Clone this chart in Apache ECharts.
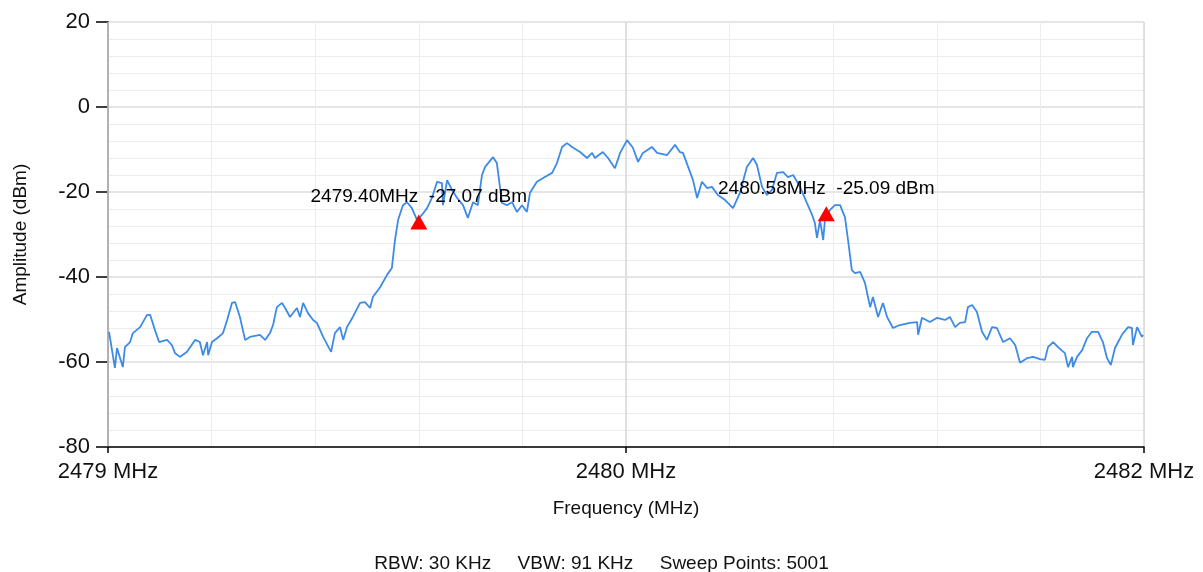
<!DOCTYPE html>
<html>
<head>
<meta charset="utf-8">
<script src="https://cdn.jsdelivr.net/npm/echarts@6/dist/echarts.min.js"></script>
<style>
  html, body { margin: 0; padding: 0; background: #fff; }
  #chart { width: 1203px; height: 572px; }
</style>
</head>
<body>
<div id="chart"></div>
<script>
// sweep span (MHz)
const spanStart = 2478.5
const spanEnd = 2481.5

const freqMHz = [
  2478.503, 2478.520, 2478.526, 2478.543, 2478.549, 2478.564, 2478.572, 2478.593, 2478.613, 2478.622,
  2478.636, 2478.648, 2478.671, 2478.685, 2478.694, 2478.708, 2478.729, 2478.752, 2478.766, 2478.775,
  2478.787, 2478.790, 2478.801, 2478.816, 2478.833, 2478.845, 2478.859, 2478.868, 2478.882, 2478.897,
  2478.911, 2478.940, 2478.955, 2478.969, 2478.978, 2478.989, 2479.004, 2479.013, 2479.027, 2479.047,
  2479.056, 2479.065, 2479.079, 2479.094, 2479.105, 2479.123, 2479.146, 2479.157, 2479.172, 2479.181,
  2479.192, 2479.209, 2479.230, 2479.244, 2479.259, 2479.267, 2479.288, 2479.308, 2479.322, 2479.331,
  2479.340, 2479.354, 2479.366, 2479.380, 2479.395, 2479.409, 2479.424, 2479.438, 2479.453, 2479.467,
  2479.470, 2479.482, 2479.496, 2479.511, 2479.528, 2479.542, 2479.557, 2479.571, 2479.583, 2479.592,
  2479.615, 2479.626, 2479.641, 2479.655, 2479.670, 2479.684, 2479.699, 2479.713, 2479.722, 2479.742,
  2479.760, 2479.786, 2479.800, 2479.815, 2479.829, 2479.847, 2479.867, 2479.887, 2479.902, 2479.910,
  2479.933, 2479.948, 2479.968, 2479.983, 2480.003, 2480.020, 2480.035, 2480.049, 2480.075, 2480.090,
  2480.119, 2480.142, 2480.156, 2480.165, 2480.180, 2480.194, 2480.206, 2480.220, 2480.235, 2480.249,
  2480.266, 2480.287, 2480.310, 2480.330, 2480.350, 2480.368, 2480.379, 2480.394, 2480.408, 2480.423,
  2480.437, 2480.455, 2480.469, 2480.484, 2480.504, 2480.524, 2480.539, 2480.547, 2480.553, 2480.562,
  2480.571, 2480.576, 2480.591, 2480.605, 2480.620, 2480.634, 2480.643, 2480.654, 2480.663, 2480.678,
  2480.692, 2480.707, 2480.715, 2480.730, 2480.744, 2480.756, 2480.773, 2480.793, 2480.822, 2480.843,
  2480.846, 2480.857, 2480.880, 2480.901, 2480.924, 2480.938, 2480.953, 2480.967, 2480.982, 2480.990,
  2481.002, 2481.016, 2481.031, 2481.045, 2481.060, 2481.074, 2481.092, 2481.112, 2481.127, 2481.141,
  2481.161, 2481.179, 2481.199, 2481.213, 2481.222, 2481.237, 2481.251, 2481.271, 2481.280, 2481.292,
  2481.294, 2481.306, 2481.321, 2481.335, 2481.349, 2481.367, 2481.381, 2481.393, 2481.404, 2481.416,
  2481.436, 2481.454, 2481.465, 2481.468, 2481.480, 2481.494, 2481.497
]

const ampDbm = [
  -52.9, -61.4, -56.7, -61.2, -56.5, -55.3, -53.2, -51.8, -48.9, -48.9,
  -52.5, -55.3, -54.8, -56.0, -57.9, -58.8, -57.6, -54.8, -55.3, -58.4,
  -55.3, -58.4, -55.3, -54.4, -53.2, -50.1, -46.1, -45.9, -49.4, -54.8,
  -54.1, -53.6, -54.8, -53.2, -51.3, -47.1, -46.1, -47.3, -49.4, -47.3,
  -49.4, -46.1, -48.5, -50.1, -50.8, -54.1, -57.6, -53.2, -51.8, -54.8,
  -51.8, -49.4, -46.1, -45.9, -47.3, -44.7, -42.4, -39.5, -37.9, -31.3,
  -26.6, -23.1, -22.4, -23.8, -26.6, -25.4, -23.8, -21.4, -17.6, -17.9,
  -23.1, -17.2, -19.5, -21.4, -23.1, -26.1, -22.4, -23.1, -16.0, -14.1,
  -11.8, -13.2, -22.6, -23.1, -22.4, -24.7, -23.1, -24.7, -20.2, -17.6,
  -16.7, -15.5, -13.2, -9.4, -8.5, -9.6, -10.6, -12.0, -10.8, -12.0,
  -10.6, -12.0, -14.4, -10.8, -7.8, -9.6, -12.9, -10.8, -9.4, -10.8,
  -11.3, -8.9, -10.6, -10.8, -14.1, -17.2, -21.4, -17.6, -19.1, -18.8,
  -20.7, -21.9, -23.8, -20.2, -14.1, -12.0, -13.6, -18.8, -20.7, -19.5,
  -15.5, -15.3, -16.5, -16.0, -18.8, -22.6, -25.4, -27.3, -30.8, -26.6,
  -31.3, -26.6, -24.2, -23.1, -23.1, -25.9, -31.3, -38.4, -39.1, -38.8,
  -41.4, -47.1, -44.7, -49.4, -46.1, -49.4, -52.0, -51.3, -50.8, -50.6,
  -53.6, -49.6, -50.6, -49.6, -50.1, -49.4, -51.8, -50.8, -50.6, -47.1,
  -46.6, -48.2, -52.9, -54.8, -51.8, -52.0, -55.3, -54.4, -56.0, -60.2,
  -59.1, -58.8, -59.3, -59.5, -56.5, -55.3, -56.5, -57.9, -61.2, -58.8,
  -61.2, -58.8, -57.2, -54.4, -52.9, -52.9, -55.3, -59.1, -60.7, -56.7,
  -53.6, -51.8, -52.0, -56.0, -51.8, -54.1, -53.6
]

// markers
const markerFreq = [2479.40, 2480.58]
const markerAmp = [-27.07, -25.09]

const rbwKHz = 30
const vbwKHz = 91
const sweepPoints = 5001

const font = '"Liberation Sans", Arial, sans-serif'
const span = spanEnd - spanStart

const traceData = freqMHz.map((f, i) => [f - spanStart, ampDbm[i]])
const markerData = markerFreq.map((f, i) => [f - spanStart, markerAmp[i]])

const chart = echarts.init(document.getElementById('chart'))

const option = {
  backgroundColor: '#fff',
  animation: false,
  textStyle: { fontFamily: font },
  title: {
    text: 'RBW: ' + rbwKHz + ' KHz     VBW: ' + vbwKHz + ' KHz     Sweep Points: ' + sweepPoints,
    left: 'center',
    top: 549,
    textStyle: { fontFamily: font, fontSize: 19, fontWeight: 'normal', color: '#111' }
  },
  grid: { left: 108, right: 59, top: 22, bottom: 125 },
  xAxis: [
    {
      // minor vertical grid
      type: 'value',
      min: 0,
      max: span,
      interval: 0.3,
      z: 0,
      axisLine: { show: false },
      axisTick: { show: false },
      axisLabel: { show: false },
      splitLine: { show: true, lineStyle: { color: '#ececec', width: 1 } }
    },
    {
      type: 'value',
      position: 'bottom',
      min: 0,
      max: span,
      interval: span / 2,
      z: 1,
      axisLine: { show: true, lineStyle: { color: '#000', width: 1.5 } },
      axisTick: { show: true, length: 6, lineStyle: { color: '#000', width: 1.5 } },
      axisLabel: {
        margin: 14,
        fontSize: 22,
        color: '#111',
        fontFamily: font,
        formatter: v => Math.round(spanStart + v) + ' MHz'
      },
      splitLine: { show: true, lineStyle: { color: '#d9d9d9', width: 1.5 } },
      name: 'Frequency (MHz)',
      nameLocation: 'middle',
      nameGap: 52,
      nameTextStyle: { fontSize: 19, color: '#111', fontFamily: font }
    }
  ],
  yAxis: {
    type: 'value',
    min: -80,
    max: 20,
    interval: 20,
    axisLine: { show: true, lineStyle: { color: '#000', width: 1.5 } },
    axisTick: { show: true, length: 12, lineStyle: { color: '#000', width: 1.5 } },
    minorTick: { show: false, splitNumber: 5 },
    minorSplitLine: { show: true, lineStyle: { color: '#ececec', width: 1 } },
    splitLine: { show: true, lineStyle: { color: '#dcdcdc', width: 1.5 } },
    axisLabel: { margin: 18, fontSize: 22, color: '#111', fontFamily: font },
    name: 'Amplitude (dBm)',
    nameLocation: 'middle',
    nameGap: 78,
    nameTextStyle: { fontSize: 19, color: '#111', fontFamily: font }
  },
  series: [
    {
      type: 'line',
      xAxisIndex: 0,
      data: traceData,
      showSymbol: false,
      lineStyle: { color: '#3d8be6', width: 1.8 },
      z: 3
    },
    {
      type: 'scatter',
      xAxisIndex: 0,
      data: markerData,
      symbol: 'triangle',
      symbolSize: [17, 15],
      itemStyle: { color: '#ff0000', opacity: 1 },
      label: {
        show: true,
        position: 'top',
        distance: 8,
        fontSize: 19,
        color: '#000',
        textBorderWidth: 0,
        fontFamily: font,
        formatter: p => (spanStart + p.value[0]).toFixed(2) + 'MHz  ' + p.value[1].toFixed(2) + ' dBm'
      },
      z: 4
    }
  ]
}

chart.setOption(option)
</script>
</body>
</html>
